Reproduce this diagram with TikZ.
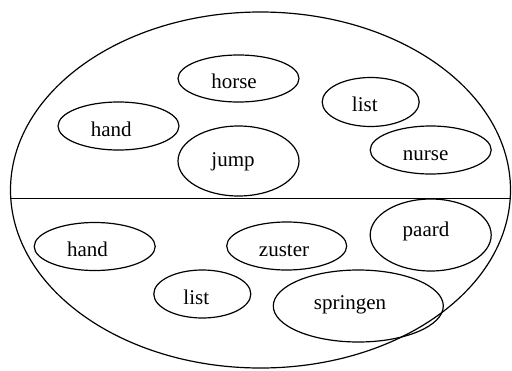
\documentclass[tikz,border=0pt]{standalone}
\usepackage{fontspec}
\setmainfont{Liberation Serif}
\usetikzlibrary{shapes.geometric}
\tikzset{
  blob/.style={draw=black, line width=1.2pt, ellipse, inner sep=0pt},
  word/.style={anchor=base, inner sep=0pt, font=\fontsize{21}{25}\selectfont}
}
\begin{document}
\begin{tikzpicture}[x=1pt,y=-1pt]
\useasboundingbox (0,0) rectangle (512,370);
% outer ellipse and divider
\node[blob, minimum width=500pt, minimum height=356pt] (outer) at (260.5,190) {};
\coordinate (L) at (10.6,198.3);
\coordinate (R) at (510.4,198.3);
\draw[line width=1.2pt] (L) -- (R);
% upper half
\node[blob, minimum width=121pt, minimum height=47pt] (horse) at (238.5,78.5) {};
\node[blob, minimum width=121pt, minimum height=48pt] (handA) at (118.5,126) {};
\node[blob, minimum width=121pt, minimum height=70pt] (jump) at (238.5,161) {};
\node[blob, minimum width=97pt, minimum height=49pt] (listA) at (370.7,102) {};
\node[blob, minimum width=121pt, minimum height=48pt] (nurse) at (430.7,150) {};
% lower half
\node[blob, minimum width=121pt, minimum height=48pt] (handB) at (94.7,246.5) {};
\node[blob, minimum width=97pt, minimum height=48pt] (listB) at (202.3,294) {};
\node[blob, minimum width=120pt, minimum height=48pt] (zuster) at (286.7,246) {};
\node[blob, minimum width=121pt, minimum height=72pt] (paard) at (430.7,235) {};
\node[blob, minimum width=170pt, minimum height=72pt] (springen) at (358.3,306) {};
% words
\node[word] (thorse) at (234,88.5) {horse};
\node[word] (thandA) at (111.2,136.5) {hand};
\node[word] (tjump) at (233,166.7) {jump};
\node[word] (tlistA) at (364.8,111.7) {list};
\node[word] (tnurse) at (425.7,160) {nurse};
\node[word] (thandB) at (87.5,256.7) {hand};
\node[word] (tlistB) at (196.3,304.3) {list};
\node[word] (tzuster) at (284,256.7) {zuster};
\node[word] (tpaard) at (426,236.7) {paard};
\node[word] (tspringen) at (350,309) {springen};
\end{tikzpicture}
\end{document}
